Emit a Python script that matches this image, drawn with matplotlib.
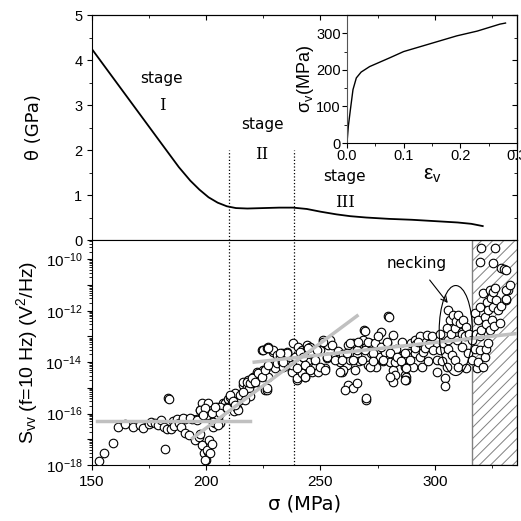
import numpy as np
import matplotlib
matplotlib.use('Agg')
import matplotlib.pyplot as plt
from matplotlib.patches import Ellipse
from matplotlib.ticker import MultipleLocator, LogLocator, FuncFormatter, NullFormatter

plt.rcParams['font.family'] = ['Liberation Sans', 'DejaVu Sans']
plt.rcParams['mathtext.default'] = 'regular'
plt.rcParams['hatch.linewidth'] = 0.7

# --- theta(sigma): work hardening rate, top panel ---
sig_theta = [150, 160, 170, 180, 188, 193, 197, 201, 205, 209, 213, 218, 225, 232, 238,
             244, 250, 257, 263, 270, 280, 290, 300, 310, 316, 321]
theta = [4.24, 3.55, 2.86, 2.17, 1.62, 1.32, 1.12, 0.95, 0.83, 0.75, 0.71, 0.70, 0.71, 0.72, 0.72,
         0.69, 0.63, 0.57, 0.53, 0.50, 0.47, 0.45, 0.42, 0.39, 0.36, 0.31]

# --- inset: true stress-strain curve ---
eps_v = [0, 0.0024, 0.006, 0.0106, 0.0165, 0.025, 0.04, 0.0756, 0.1, 0.135, 0.194, 0.23, 0.27, 0.28]
sig_v = [0, 46, 91, 146, 178, 194, 209, 233, 250, 266, 293, 306, 325, 328]

# --- noise PSD at 10 Hz, read point by point (sigma in MPa, log10 of S_vv) ---
pts = [
    (153.2, -17.84), (155.4, -17.52), (159.0, -17.13), (161.4, -16.51), (164.6, -16.42),
    (167.9, -16.52), (171.0, -16.45), (172.2, -16.55), (174.8, -16.39), (176.0, -16.33),
    (177.4, -16.38), (179.0, -16.45), (180.0, -16.26), (181.4, -16.51), (182.8, -16.61),
    (184.7, -16.59), (183.2, -15.38), (183.6, -15.42), (182.1, -17.37), (185.5, -16.30),
    (186.0, -16.50), (187.2, -16.22), (188.0, -16.35), (189.1, -16.51), (190.8, -16.22),
    (190.5, -16.77), (192.6, -16.83), (193.7, -16.21), (195.2, -17.03), (196.7, -16.90),
    (195.9, -16.22), (198.1, -17.22), (198.9, -17.55), (199.9, -17.81), (197.4, -15.86),
    (199.6, -15.67), (201.0, -15.86), (201.0, -17.03), (200.7, -17.48), (197.2, -16.80),
    (200.2, -17.42), (201.6, -17.55), (202.4, -17.18), (199.4, -17.80), (198.0, -15.60),
    (200.9, -15.60), (198.7, -15.86), (203.1, -15.93), (205.3, -16.12), (203.1, -16.51),
    (206.0, -16.38), (202.3, -15.86), (200.2, -16.05), (203.8, -16.38), (206.0, -15.86),
    (204.5, -15.75), (207.4, -15.60), (208.2, -15.60), (208.9, -15.73), (209.5, -15.45),
    (211.1, -15.60), (210.4, -15.34), (211.8, -15.60), (212.0, -15.90), (212.6, -15.21),
    (213.3, -15.79), (214.0, -15.86), (214.7, -15.34), (214.7, -15.47), (216.9, -15.21),
    (216.9, -15.15), (216.2, -14.89), (216.2, -14.76), (217.7, -14.95), (218.4, -14.69),
    (218.5, -15.00), (219.0, -15.30), (219.9, -14.82), (220.6, -14.56), (221.0, -14.75),
    (222.0, -14.37), (222.8, -14.50), (223.5, -14.82), (224.2, -14.82), (224.9, -14.30),
    (225.7, -15.08), (226.4, -15.08), (225.7, -14.30), (227.1, -14.56), (227.9, -14.11),
    (230.1, -14.24), (230.8, -14.04), (224.2, -13.53), (224.9, -13.53), (226.4, -13.46),
    (227.1, -13.40), (229.3, -13.59), (229.3, -13.53), (230.8, -13.72), (232.2, -13.79),
    (233.0, -13.65), (233.0, -13.98), (233.7, -14.18), (235.2, -13.59), (235.2, -13.65),
    (235.9, -14.11), (237.4, -14.30), (237.4, -14.37), (238.1, -13.26), (239.6, -14.69),
    (239.6, -14.63), (240.3, -13.40), (241.0, -14.04), (241.7, -14.43), (241.7, -13.53),
    (242.4, -13.79), (243.2, -14.56), (243.9, -13.46), (243.9, -13.33), (244.6, -14.18),
    (244.6, -13.98), (245.4, -13.40), (246.1, -13.65), (246.1, -14.37), (246.8, -14.18),
    (247.5, -14.18), (249.0, -14.37), (249.7, -13.53), (251.2, -13.14), (251.9, -13.26),
    (252.7, -13.85), (251.9, -14.24), (253.4, -13.33), (254.1, -13.14), (254.9, -13.33),
    (256.3, -13.79), (257.5, -13.55), (258.5, -13.98), (259.2, -14.37), (260.0, -13.70),
    (261.4, -14.11), (262.1, -13.33), (263.0, -13.90), (264.3, -13.26), (265.8, -13.72),
    (265.1, -14.30), (267.0, -13.95), (267.2, -13.40), (268.7, -13.14), (270.1, -13.40),
    (271.6, -13.26), (272.3, -13.65), (269.2, -12.74), (269.6, -12.77), (270.9, -14.11),
    (273.5, -13.90), (274.5, -14.18), (275.0, -13.50), (276.0, -13.79), (276.7, -12.81),
    (277.5, -13.95), (278.9, -13.26), (278.2, -13.59), (279.4, -12.22), (279.8, -12.24),
    (280.4, -13.98), (281.8, -12.94), (281.8, -14.30), (282.5, -14.50), (281.8, -14.76),
    (283.0, -13.50), (284.7, -13.92), (285.5, -13.20), (286.2, -13.72), (286.9, -14.11),
    (286.9, -14.18), (286.9, -14.50), (287.6, -14.56), (287.6, -14.69), (288.4, -13.65),
    (288.4, -13.79), (289.8, -13.26), (290.3, -14.18), (291.3, -13.14), (291.3, -13.65),
    (292.0, -13.30), (293.5, -13.00), (293.5, -13.79), (294.5, -14.20), (295.0, -13.60),
    (295.7, -13.46), (296.4, -12.94), (297.1, -13.96), (297.5, -13.30), (298.6, -13.00),
    (299.3, -13.53), (300.8, -13.92), (300.8, -14.37), (302.2, -13.53), (302.5, -12.90),
    (303.0, -13.96), (303.7, -13.26), (304.4, -14.63), (304.4, -14.93), (305.2, -12.68),
    (305.9, -11.97), (305.9, -13.14), (305.2, -14.18), (306.0, -13.50), (306.6, -12.36),
    (307.0, -12.90), (307.4, -13.72), (308.1, -12.16), (308.8, -12.68), (308.8, -13.92),
    (309.5, -12.40), (309.6, -13.14), (310.3, -12.16), (310.3, -14.18), (311.0, -12.49),
    (311.8, -12.81), (311.8, -13.40), (312.0, -12.90), (312.5, -12.36), (313.2, -13.00),
    (313.9, -12.62), (313.9, -14.24), (314.6, -13.65), (315.0, -12.90), (316.1, -13.92),
    (316.1, -13.14), (262.1, -14.89), (264.3, -15.02), (260.7, -15.08), (265.8, -14.80),
    (270.1, -15.47), (317.5, -12.10), (318.0, -12.90), (317.5, -13.50), (318.3, -14.24),
    (319.0, -12.36), (319.0, -13.98), (319.7, -11.84), (319.7, -13.53), (320.0, -13.00),
    (320.4, -12.75), (321.2, -11.32), (321.2, -14.18), (321.9, -12.23), (321.9, -13.79),
    (322.5, -12.50), (322.5, -13.50), (322.7, -11.65), (323.4, -11.97), (323.4, -13.26),
    (324.1, -11.19), (324.1, -12.75), (324.5, -11.50), (324.9, -12.36), (325.6, -11.84),
    (325.6, -11.26), (326.0, -12.60), (326.3, -11.12), (327.0, -11.58), (327.7, -11.97),
    (328.5, -12.49), (329.0, -11.80), (331.4, -11.58), (331.1, -11.55), (332.1, -11.19),
    (331.4, -11.19), (333.0, -11.00), (320.4, -9.57), (326.3, -9.57), (319.7, -10.09),
    (325.6, -10.15), (329.2, -10.35), (330.5, -10.38), (331.4, -10.41),
    # denser band, second reading
    (238.8, -13.79), (241.0, -13.59), (237.4, -14.11), (239.6, -14.24), (242.4, -13.79),
    (244.6, -13.46), (243.2, -14.11), (245.4, -14.30), (247.5, -13.92), (248.3, -13.53),
    (249.7, -14.18), (251.2, -13.20), (252.7, -13.79), (251.9, -14.30), (256.3, -13.92),
    (259.2, -13.92), (259.9, -14.30), (261.4, -13.65), (262.9, -13.26), (264.3, -13.92),
    (265.8, -13.53), (266.5, -13.20), (268.0, -13.92), (269.4, -13.53), (270.9, -13.20),
    (271.6, -14.18), (273.0, -13.65), (273.8, -13.26), (275.3, -13.00), (276.7, -13.40),
    (277.4, -13.92), (278.9, -13.20), (280.3, -13.65), (282.5, -13.98), (283.3, -13.79),
    (285.4, -13.96), (286.9, -13.65), (287.6, -14.24), (289.1, -13.92), (291.3, -13.46),
    (292.7, -13.20), (280.4, -14.56), (286.9, -14.69), (258.5, -14.37), (273.0, -13.96),
    (270.1, -15.40), (243.2, -14.56),
    (189.9, -16.18), (192.9, -16.18), (195.8, -16.25), (197.2, -15.86), (199.4, -15.79),
    (198.7, -16.05), (202.4, -15.99), (203.1, -16.32), (205.3, -16.44), (206.0, -15.73),
    (206.0, -15.99), (203.8, -15.73), (208.9, -15.79), (210.4, -15.28), (211.8, -15.53),
    (212.6, -15.67), (214.7, -15.28), (216.2, -15.15), (216.9, -15.47), (217.7, -14.76),
    (219.1, -14.82), (219.9, -14.63), (221.3, -14.76), (222.8, -14.43), (224.2, -14.56),
    (225.7, -14.30), (226.4, -15.02), (227.1, -14.11), (227.1, -13.46), (232.2, -13.65),
    (233.7, -13.98),
]
sig_pts = np.array([p[0] for p in pts])
S_pts = 10.0 ** np.array([p[1] for p in pts])

# grey guide lines (sigma, S)
fit1_x = [152, 219]; fit1_y = [5.2e-17, 5.2e-17]
fit2_x = [194, 266]; fit2_y = [1.1e-17, 6.3e-13]
fit3_x = [221, 336]; fit3_y = [1.0e-14, 1.3e-13]

stage_lines = [210, 238.5]
necking_zone = [316.5, 336]

fig = plt.figure(figsize=(5.21, 5.21), dpi=100)
ax1 = fig.add_axes([0.1766, 0.5393, 0.8157, 0.4319])
ax2 = fig.add_axes([0.1766, 0.1075, 0.8157, 0.4318], sharex=ax1)

# ---------------- top panel ----------------
ax1.plot(sig_theta, theta, color='black', lw=1.3)
for s in stage_lines:
    ax1.plot([s, s], [0, 2], color='black', ls=':', lw=0.9)
ax1.set_ylim(0, 5)
ax1.set_xlim(150, 336)
ax1.yaxis.set_major_locator(MultipleLocator(1))
ax1.yaxis.set_minor_locator(MultipleLocator(0.5))
ax1.tick_params(axis='x', labelbottom=False, length=0)
ax1.tick_params(axis='y', which='both', direction='out', labelsize=10.5)
ax1.set_ylabel('θ (GPa)', family='DejaVu Sans', fontsize=13, labelpad=22)

txt_kw = dict(ha='center', va='center', family='DejaVu Sans', fontsize=11)
num_kw = dict(ha='center', va='center', family='DejaVu Serif', fontsize=12)
ax1.text(180.6, 3.6, 'stage', **txt_kw)
ax1.text(180.6, 3.0, 'I', **num_kw)
ax1.text(224.4, 2.56, 'stage', **txt_kw)
ax1.text(224.4, 1.91, 'II', **num_kw)
ax1.text(260.7, 1.42, 'stage', **txt_kw)
ax1.text(260.7, 0.84, 'III', **num_kw)

sec = ax1.secondary_yaxis('right')
sec.yaxis.set_major_locator(MultipleLocator(1))
sec.yaxis.set_minor_locator(MultipleLocator(0.5))
sec.tick_params(which='both', direction='in', labelright=False)
sect = ax1.secondary_xaxis('top')
sect.xaxis.set_major_locator(MultipleLocator(50))
sect.xaxis.set_minor_locator(MultipleLocator(25))
sect.tick_params(which='both', direction='in', labeltop=False)

# inset
axin = fig.add_axes([0.666, 0.7255, 0.326, 0.2457])
axin.plot(eps_v, sig_v, color='black', lw=1.0)
axin.set_xlim(0, 0.3)
axin.set_ylim(0, 350)
axin.xaxis.set_major_locator(MultipleLocator(0.1))
axin.xaxis.set_minor_locator(MultipleLocator(0.05))
axin.yaxis.set_major_locator(MultipleLocator(100))
axin.yaxis.set_minor_locator(MultipleLocator(50))
axin.xaxis.set_major_formatter(FuncFormatter(lambda v, p: f'{v:.1f}'))
axin.tick_params(which='both', direction='out', labelsize=10.5, pad=1)
axin.tick_params(which='major', length=3.5)
axin.tick_params(which='minor', length=2)
axin.spines['left'].set_color('#555555')
axin.set_xlabel(r'$\epsilon_v$', fontsize=15, labelpad=2)
axin.set_ylabel(r'$\sigma_v$(MPa)', fontsize=13, labelpad=0)
axin.patch.set_alpha(0)

# ---------------- bottom panel ----------------
ax2.set_yscale('log')
ax2.axvspan(necking_zone[0], necking_zone[1], facecolor='white', edgecolor='#808080',
            hatch='///', lw=1.0, zorder=1)
for s in stage_lines:
    ax2.axvline(s, color='black', ls=':', lw=0.9, zorder=2)
ax2.plot(fit1_x, fit1_y, color='#c0c0c0', lw=2.5, zorder=4)
ax2.plot(fit2_x, fit2_y, color='#c0c0c0', lw=2.5, zorder=4)
ax2.plot(fit3_x, fit3_y, color='#c0c0c0', lw=2.5, zorder=4)
ax2.scatter(sig_pts, S_pts, s=38, facecolors='white', edgecolors='black',
            linewidths=0.8, zorder=3)

# necking annotation
x0, x1 = 150, 336
ly0, ly1 = -18, -9.25
ec_x, ec_ly, ew, eh = 309.2, -12.77, 14.5, 3.5
ax2.add_patch(Ellipse(((ec_x - x0) / (x1 - x0), (ec_ly - ly0) / (ly1 - ly0)),
                      ew / (x1 - x0), eh / (ly1 - ly0), angle=0,
                      transform=ax2.transAxes, fill=False, ec='black', lw=0.8, zorder=5))
ax2.annotate('necking', xy=(305.7, 10 ** -11.7), xytext=(292, 10 ** -10.15),
             ha='center', va='center', family='DejaVu Sans', fontsize=11,
             arrowprops=dict(arrowstyle='->', lw=0.8, color='black',
                             shrinkA=6, shrinkB=0), zorder=6)

ax2.set_xlim(150, 336)
ax2.set_ylim(1e-18, 10 ** -9.25)
ax2.xaxis.set_major_locator(MultipleLocator(50))
ax2.xaxis.set_minor_locator(MultipleLocator(25))
ax2.yaxis.set_major_locator(LogLocator(base=10, numticks=20))
ax2.yaxis.set_minor_locator(LogLocator(base=10, subs=np.arange(2, 10), numticks=20))
ax2.yaxis.set_major_formatter(FuncFormatter(
    lambda v, p: r'$10^{%d}$' % round(np.log10(v)) if round(np.log10(v)) % 2 == 0 else ''))
ax2.yaxis.set_minor_formatter(NullFormatter())
ax2.tick_params(which='both', direction='out', labelsize=11)
ax2.tick_params(axis='y', which='minor', length=2)
ax2.set_xlabel('σ (MPa)', family='DejaVu Sans', fontsize=14, labelpad=4)
ax2.set_ylabel(r'$S_{vv}$ (f=10 Hz) (V$^2$/Hz)', fontsize=14, labelpad=4)

sec2 = ax2.secondary_yaxis('right')
sec2.yaxis.set_major_locator(LogLocator(base=10, numticks=20))
sec2.yaxis.set_minor_locator(LogLocator(base=10, subs=np.arange(2, 10), numticks=20))
sec2.tick_params(which='both', direction='in', labelright=False)
sec2.tick_params(which='minor', length=2)

fig.savefig('out.png', dpi=100)
